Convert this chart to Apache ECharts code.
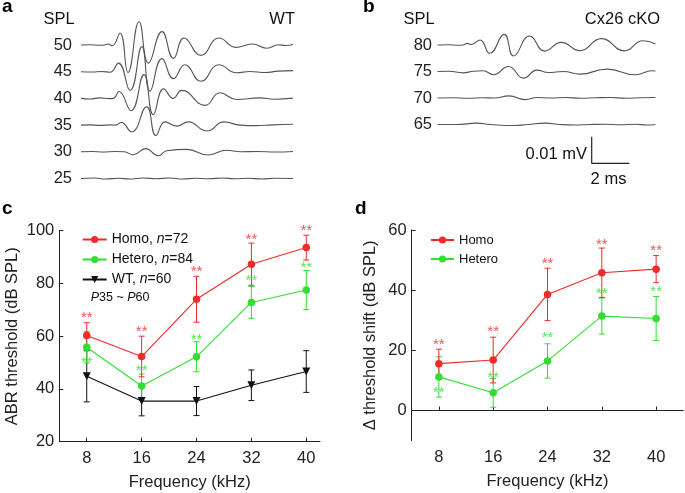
<!DOCTYPE html>
<html><head><meta charset="utf-8">
<script src="https://cdn.jsdelivr.net/npm/echarts@6/dist/echarts.min.js"></script>
<style>html,body{margin:0;padding:0;background:#fff}#c{width:685px;height:493px}</style>
</head><body><div id="c"></div><script>
// ---------- DATA ----------
// Panel a (WT) ABR waveforms: [time ms, amplitude µV]
const levelsA = [50, 45, 40, 35, 30, 25];
const waveA50 = [[0,0],[0.5,0.1],[1.0,-0.1],[1.3,0.1],[1.45,0.4],[1.65,-0.3],[2.07,4.4],[2.5,-10.3],[3.09,8.7],[3.59,-6.8],[4.31,5.0],[4.92,-5.0],[5.48,2.6],[6.38,-3.9],[7.34,2.6],[8.24,-0.9],[9.1,0.4],[9.89,-1.2],[10.5,0.1],[10.9,-0.2],[11.28,0.2]];
const waveA45 = [[0,0],[0.6,-0.1],[1.1,0.1],[1.55,-0.2],[1.99,3.2],[2.61,-7.0],[3.24,9.4],[3.67,-7.3],[4.31,4.9],[4.92,-2.6],[5.53,2.6],[6.38,-3.6],[7.34,2.6],[8.28,-0.4],[9.0,0.1],[9.8,-0.3],[10.5,0.2],[11.28,0.4]];
const waveA40 = [[0,0],[0.5,-0.2],[1.0,0.2],[1.5,-0.1],[1.75,0.1],[2.02,2.6],[2.66,-4.6],[3.35,8.9],[3.85,-6.1],[4.4,3.6],[4.91,0.0],[5.36,3.0],[6.6,-2.6],[7.39,2.1],[8.28,-0.4],[9.5,0.2],[10.3,-0.3],[11.28,0.1]];
const waveA35 = [[0,0],[0.5,0.1],[1.0,-0.1],[1.6,0.1],[1.85,0],[2.14,1.0],[2.69,-2.5],[3.49,6.9],[3.99,-3.9],[4.47,1.2],[5.09,-0.4],[5.71,1.2],[6.69,-2.2],[7.61,1.2],[8.46,0],[9.3,-0.2],[10.2,0.1],[11.28,0.3]];
const waveA30 = [[0,0],[0.6,0.1],[1.2,-0.1],[1.8,0.1],[2.3,0],[2.78,-1.1],[3.44,1.2],[4.11,-1.5],[4.56,0.4],[5.62,0.9],[6.77,-1.2],[7.75,0.6],[8.5,0],[9.4,0.1],[10.3,-0.1],[11.28,0.1]];
const waveA25 = [[0,0],[0.7,0.2],[1.3,-0.2],[2.0,0.1],[2.6,-0.2],[3.3,0.2],[4.0,-0.1],[4.7,0.2],[5.4,-0.2],[6.1,0.1],[6.8,-0.1],[7.5,0.2],[8.2,-0.1],[8.9,0.1],[9.6,-0.2],[10.3,0.1],[11.28,0]];
// Panel b (Cx26 cKO)
const levelsB = [80, 75, 70, 65];
const waveB80 = [[0,0],[0.6,0.1],[1.1,-0.1],[1.36,0],[1.57,0.6],[1.8,0.2],[2.26,1.9],[2.77,-3.1],[3.54,4.0],[4.04,-4.1],[4.89,3.4],[5.69,-2.3],[6.57,1.0],[7.55,-2.1],[8.7,2.4],[9.92,-2.2],[10.9,1.6],[11.57,0.4]];
const waveB75 = [[0,0],[0.6,0.1],[1.36,-0.5],[1.9,0.1],[2.42,0.3],[2.97,-1.2],[3.77,1.9],[4.56,-2.5],[5.28,0.5],[5.88,-0.4],[6.68,0],[7.55,-1.0],[9.0,0.9],[10.5,-1.2],[11.39,0.3],[11.57,0.2]];
const waveB70 = [[0,0],[0.8,0.1],[1.6,-0.1],[2.4,0.1],[3.0,0],[3.8,0.8],[4.65,-0.6],[5.3,0.2],[6.0,0],[6.8,0.2],[7.6,-0.1],[8.4,0.1],[9.2,0.2],[10.0,-0.1],[10.8,0.1],[11.57,0.2]];
const waveB65 = [[0,0],[1.0,0],[2.08,0.5],[2.8,0],[4.03,-0.4],[4.8,0],[5.72,0.5],[6.5,0],[7.3,-0.2],[8.1,0],[8.9,0.1],[9.7,-0.1],[10.5,0.1],[11.1,-0.2],[11.57,0]];
const scaleBarMs = 2, scaleBarUv = 10;

// Panel c: ABR threshold (dB SPL)
const freqs = [8, 16, 24, 32, 40];
const cHomo = [60.3, 52.3, 74.0, 87.3, 93.6];
const cHomoErr = [4.8, 7.7, 8.7, 8.0, 4.7];
const cHetero = [55.8, 41.1, 52.2, 72.8, 77.5];
const cHeteroErr = [6.0, 4.5, 5.7, 6.0, 7.4];
const cWT = [44.8, 35.4, 35.4, 41.4, 46.6];
const cWTErr = [9.7, 5.6, 5.5, 5.8, 7.9];
const cHomoStar = [68.1, 62.7, 85.4, 97.8, 101.0];
const cHeteroStar = [51.0, 48.1, 59.6, 82.0, 87.0];
// Panel d: threshold shift (dB SPL)
const dHomo = [15.6, 16.8, 38.6, 45.8, 47.0];
const dHomoErr = [4.8, 7.6, 8.7, 8.2, 4.5];
const dHetero = [11.2, 5.9, 16.5, 31.4, 30.6];
const dHeteroErr = [6.7, 4.8, 5.7, 6.0, 7.3];
const dHomoStar = [22.8, 27.1, 49.6, 56.2, 54.0];
const dHeteroStar = [6.8, 11.8, 25.0, 39.9, 40.5];
const cYTicks = [20, 40, 60, 80, 100];
const dYTicks = [0, 20, 40, 60];

// ---------- STYLE ----------
const FONT = "'Liberation Sans', Arial, Helvetica, sans-serif";
const RED = '#ee2b2b', GREEN = '#33dd33', BLACK = '#111', TRACE = '#555', AXIS = '#222';

const grids = [], xAxes = [], yAxes = [], series = [];

function addTrace(left, width, xmax, baseline, level, wave, margin) {
  const gi = grids.length;
  grids.push({ left: left, width: width, top: baseline - 40, height: 80 });
  xAxes.push({ gridIndex: gi, type: 'value', min: 0, max: xmax, show: false });
  yAxes.push({ gridIndex: gi, type: 'value', min: -15, max: 15,
    axisLine: { show: false }, axisTick: { show: false }, splitLine: { show: false },
    axisLabel: { customValues: [0], formatter: function () { return String(level); },
      margin: margin, fontSize: 16.5, color: AXIS, fontFamily: FONT } });
  series.push({ type: 'line', xAxisIndex: gi, yAxisIndex: gi, data: wave, showSymbol: false,
    smooth: 0.5, lineStyle: { color: TRACE, width: 1.1 }, silent: true });
}
const wavesA = [waveA50, waveA45, waveA40, waveA35, waveA30, waveA25];
levelsA.forEach(function (lv, i) { addTrace(81, 212, 11.28, 45 + i * 26.7, lv, wavesA[i], 9); });
const wavesB = [waveB80, waveB75, waveB70, waveB65];
levelsB.forEach(function (lv, i) { addTrace(437.5, 218, 11.57, 45 + i * 26.5, lv, wavesB[i], 5.5); });

// scale bar grid
(function () {
  const gi = grids.length;
  grids.push({ left: 591.7, top: 136.7, width: 37.6, height: 26.6 });
  xAxes.push({ gridIndex: gi, type: 'value', min: 0, max: scaleBarMs, show: false });
  yAxes.push({ gridIndex: gi, type: 'value', min: 0, max: scaleBarUv, show: false });
  series.push({ type: 'line', xAxisIndex: gi, yAxisIndex: gi,
    data: [[0, scaleBarUv], [0, 0], [scaleBarMs, 0]], showSymbol: false,
    lineStyle: { color: AXIS, width: 1.2 }, silent: true });
})();

function addPanel(grid, xmax, ymin, ymax, yTicks, yName, nameGapY) {
  const gi = grids.length;
  grids.push(grid);
  xAxes.push({ gridIndex: gi, type: 'value', min: 4, max: xmax,
    name: 'Frequency (kHz)', nameLocation: 'middle', nameGap: 32,
    nameTextStyle: { fontSize: 16.5, color: AXIS, fontFamily: FONT },
    axisLine: { lineStyle: { color: AXIS, width: 1 } },
    axisTick: { inside: true, length: 4, customValues: freqs, lineStyle: { color: AXIS } },
    axisLabel: { customValues: freqs, margin: 8, fontSize: 16.5, color: AXIS, fontFamily: FONT },
    splitLine: { show: false } });
  yAxes.push({ gridIndex: gi, type: 'value', min: ymin, max: ymax,
    name: yName, nameLocation: 'middle', nameGap: nameGapY,
    nameTextStyle: { fontSize: 16.5, color: AXIS, fontFamily: FONT },
    axisLine: { show: true, lineStyle: { color: AXIS, width: 1 } },
    axisTick: { show: true, inside: true, length: 4, customValues: yTicks, lineStyle: { color: AXIS } },
    axisLabel: { customValues: yTicks, margin: 5, fontSize: 16.5, color: AXIS, fontFamily: FONT },
    splitLine: { show: false } });
  return gi;
}
function errBars(gi, means, errs, color) {
  series.push({ type: 'custom', name: 'err', xAxisIndex: gi, yAxisIndex: gi,
    data: freqs.map(function (f, i) { return [f, means[i], errs[i]]; }),
    encode: { x: 0, y: 1 }, silent: true, clip: false,
    renderItem: function (params, api) {
      const x = api.value(0), m = api.value(1), e = api.value(2);
      const a = api.coord([x, m + e]), b = api.coord([x, m - e]);
      const w = 3, st = { stroke: color, lineWidth: 1 };
      return { type: 'group', children: [
        { type: 'line', shape: { x1: a[0], y1: a[1], x2: b[0], y2: b[1] }, style: st },
        { type: 'line', shape: { x1: a[0] - w, y1: a[1], x2: a[0] + w, y2: a[1] }, style: st },
        { type: 'line', shape: { x1: b[0] - w, y1: b[1], x2: b[0] + w, y2: b[1] }, style: st }
      ] };
    } });
}
function meanLine(gi, name, means, color, symbol, size, rot) {
  series.push({ type: 'line', name: name, xAxisIndex: gi, yAxisIndex: gi,
    data: freqs.map(function (f, i) { return [f, means[i]]; }),
    symbol: symbol, symbolSize: size, symbolRotate: rot || 0, showSymbol: true,
    lineStyle: { color: color, width: 1.1 }, itemStyle: { color: color } });
}
function stars(gi, pos, color) {
  series.push({ type: 'scatter', name: 'stars', xAxisIndex: gi, yAxisIndex: gi, clip: false,
    data: freqs.map(function (f, i) { return [f, pos[i]]; }), symbolSize: 1,
    itemStyle: { color: 'transparent' }, silent: true,
    label: { show: true, position: 'inside', formatter: '**', color: color,
      fontSize: 15, fontFamily: FONT, offset: [0, 3] } });
}

const gc = addPanel({ left: 59.3, top: 230.7, width: 260.7, height: 211 }, 42, 20, 100, cYTicks, 'ABR threshold (dB SPL)', 38);
errBars(gc, cWT, cWTErr, BLACK);
errBars(gc, cHetero, cHeteroErr, GREEN);
errBars(gc, cHomo, cHomoErr, RED);
meanLine(gc, 'WT', cWT, BLACK, 'triangle', 8, 180);
meanLine(gc, 'Hetero', cHetero, GREEN, 'circle', 7.5);
meanLine(gc, 'Homo', cHomo, RED, 'circle', 7.5);
stars(gc, cHomoStar, RED);
stars(gc, cHeteroStar, GREEN);

const gd = addPanel({ left: 411.7, top: 230, width: 271.6, height: 210.7 }, 44, -10, 60, dYTicks, 'Δ threshold shift (dB SPL)', 33);
errBars(gd, dHetero, dHeteroErr, GREEN);
errBars(gd, dHomo, dHomoErr, RED);
meanLine(gd, 'Hetero', dHetero, GREEN, 'circle', 7.5);
meanLine(gd, 'Homo', dHomo, RED, 'circle', 7.5);
stars(gd, dHomoStar, RED);
stars(gd, dHeteroStar, GREEN);

const legendLabels = { 'Homo': '{t|Homo, }{i|n}{t|=72}', 'Hetero': '{t|Hetero, }{i|n}{t|=84}', 'WT': '{t|WT, }{i|n}{t|=60}' };
const txt = function (s, x, y, size, align) {
  return { type: 'text', x: x, y: y, silent: true,
    style: { text: s, fill: '#111', font: size + 'px ' + FONT, align: align, verticalAlign: 'middle' } };
};

const option = {
  animation: false,
  backgroundColor: '#fff',
  grid: grids, xAxis: xAxes, yAxis: yAxes, series: series,
  legend: [
    { data: ['Homo', 'Hetero', 'WT'], orient: 'vertical', left: 76.7, top: 227.5,
      itemWidth: 24, itemHeight: 9, itemGap: 6, selectedMode: false,
      formatter: function (n) { return legendLabels[n]; },
      textStyle: { rich: {
        t: { fontSize: 14, fontFamily: FONT, color: '#111' },
        i: { fontSize: 14, fontFamily: FONT, fontStyle: 'italic', color: '#111' } } } },
    { data: ['Homo', 'Hetero'], orient: 'vertical', left: 425, top: 228.5,
      itemWidth: 23, itemHeight: 9, itemGap: 6, selectedMode: false,
      textStyle: { fontSize: 13, fontFamily: FONT, color: '#111' } }
  ],
  graphic: [
    { type: 'text', x: 2, y: 6.5, silent: true, style: { text: 'a', fill: '#000', font: 'bold 19px ' + FONT, align: 'left', verticalAlign: 'middle' } },
    { type: 'text', x: 363, y: 6.5, silent: true, style: { text: 'b', fill: '#000', font: 'bold 19px ' + FONT, align: 'left', verticalAlign: 'middle' } },
    { type: 'text', x: 2, y: 208.5, silent: true, style: { text: 'c', fill: '#000', font: 'bold 19px ' + FONT, align: 'left', verticalAlign: 'middle' } },
    { type: 'text', x: 355, y: 208.5, silent: true, style: { text: 'd', fill: '#000', font: 'bold 19px ' + FONT, align: 'left', verticalAlign: 'middle' } },
    txt('SPL', 59.2, 19, 16.5, 'center'),
    txt('WT', 295, 19, 16.5, 'right'),
    txt('SPL', 419, 19.5, 16.5, 'center'),
    txt('Cx26 cKO', 660, 19.5, 16.5, 'right'),
    txt('0.01 mV', 587, 154, 16.5, 'right'),
    txt('2 ms', 608.5, 179, 16.5, 'center'),
    { type: 'text', x: 90.7, y: 297.5, silent: true,
      style: { text: '{i|P}{t|35 ~ }{i|P}{t|60}', align: 'left', verticalAlign: 'middle',
        rich: { t: { fontSize: 12.5, fontFamily: FONT, fill: '#111' },
                i: { fontSize: 12.5, fontFamily: FONT, fontStyle: 'italic', fill: '#111' } } } }
  ]
};
const chart = echarts.init(document.getElementById('c'), null, { renderer: 'canvas' });
chart.setOption(option);
</script></body></html>
